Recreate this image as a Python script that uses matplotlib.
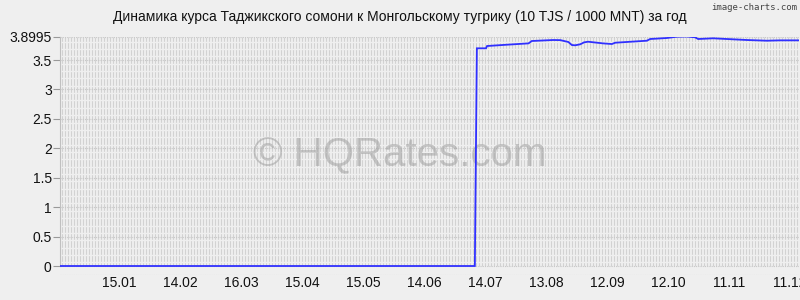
import numpy as np
import matplotlib
matplotlib.use("Agg")
import matplotlib.pyplot as plt

plt.rcParams['font.family'] = ['Liberation Sans', 'DejaVu Sans']

title = "Динамика курса Таджикского сомони к Монгольскому тугрику (10 TJS / 1000 MNT) за год"

# day index from start of period (≈17.12 of previous year)
days = [0, 204, 205, 209.5, 210, 219.7, 230.4, 232, 242.5, 246, 250, 251.7, 253.3,
        255.8, 257.7, 259.7, 267, 271.4, 273, 288.6, 290.2, 298.4, 303.3, 308.3,
        312.3, 313.8, 321.2, 328, 337.8, 347.6, 354.1, 363.5]
values = [0, 0, 3.699, 3.699, 3.738, 3.760, 3.783, 3.823, 3.840, 3.838, 3.806, 3.755, 3.750,
          3.767, 3.800, 3.811, 3.783, 3.772, 3.794, 3.828, 3.857, 3.874, 3.896, 3.8995,
          3.886, 3.857, 3.869, 3.857, 3.840, 3.828, 3.834, 3.834]

xtick_days = [29, 59, 89, 119, 149, 179, 209, 239, 269, 299, 329, 359]
xtick_labels = ["15.01", "14.02", "16.03", "15.04", "15.05", "14.06",
                "14.07", "13.08", "12.09", "12.10", "11.11", "11.12"]
ytick_vals = [0, 0.5, 1, 1.5, 2, 2.5, 3, 3.5, 3.8995]
ytick_labels = ["0", "0.5", "1", "1.5", "2", "2.5", "3", "3.5", "3.8995"]

bg = '#efefef'
fig = plt.figure(figsize=(8, 3), dpi=100, facecolor=bg)
ax = fig.add_axes([0.075, 0.0833, 0.924, 0.7950])
ax.set_facecolor(bg)

ymax = 3.8995
xmax = 363.5
ax.set_xlim(0, xmax)
ax.set_ylim(-0.153, ymax)

# dense vertical grid
px_day = xmax / 739.0
gx = np.arange(0.5 * 3 * px_day, xmax, 3 * px_day)
ax.vlines(gx, 0, ymax, colors='#d2d2d2', linewidth=0.8, zorder=1)
# gaps between rows
gy = np.arange(0.0625, ymax, 0.125)
ax.hlines(gy, 0, xmax, colors=bg, linewidth=1.0, zorder=1.5)
# major horizontal dotted lines
for v in ytick_vals[:-1]:
    ax.axhline(v, color='#c8c8c8', linewidth=0.8, linestyle=(0, (1, 1)), zorder=1.6)
ax.axhline(ymax, color='#c8c8c8', linewidth=0.8, linestyle=(0, (1, 1)), zorder=1.6)
ax.axhline(-0.153, color='#c8c8c8', linewidth=0.8, linestyle=(0, (1, 1)), zorder=1.6)

# watermark
ax.text(0.46, 0.5, "© HQRates.com", transform=ax.transAxes, fontsize=29,
        color='#a0a0a0', alpha=0.55, ha='center', va='center', zorder=2)

ax.plot(days, values, color='#3030ff', linewidth=1.3, zorder=3, solid_joinstyle='miter')

for s in ['top', 'right', 'bottom']:
    ax.spines[s].set_visible(False)
ax.spines['left'].set_color('#c0c0c0')
ax.spines['left'].set_linewidth(0.8)
ax.spines['left'].set_bounds(0, ymax)

ax.set_xticks(xtick_days)
ax.set_xticklabels(xtick_labels)
ax.set_yticks(ytick_vals)
ax.set_yticklabels(ytick_labels)
ax.tick_params(axis='x', length=0, pad=1, labelsize=10, labelcolor='#111111')
ax.tick_params(axis='y', length=5, width=0.8, color='#999999', pad=1,
               labelsize=10, labelcolor='#111111')

fig.text(0.5, 0.943, title, ha='center', va='center', fontsize=10, color='#111111')
fig.text(0.996, 0.975, "image-charts.com", ha='right', va='center', fontsize=6.5,
         color='#444444', family='DejaVu Sans Mono')

fig.savefig("out.png", dpi=100, facecolor=bg)
